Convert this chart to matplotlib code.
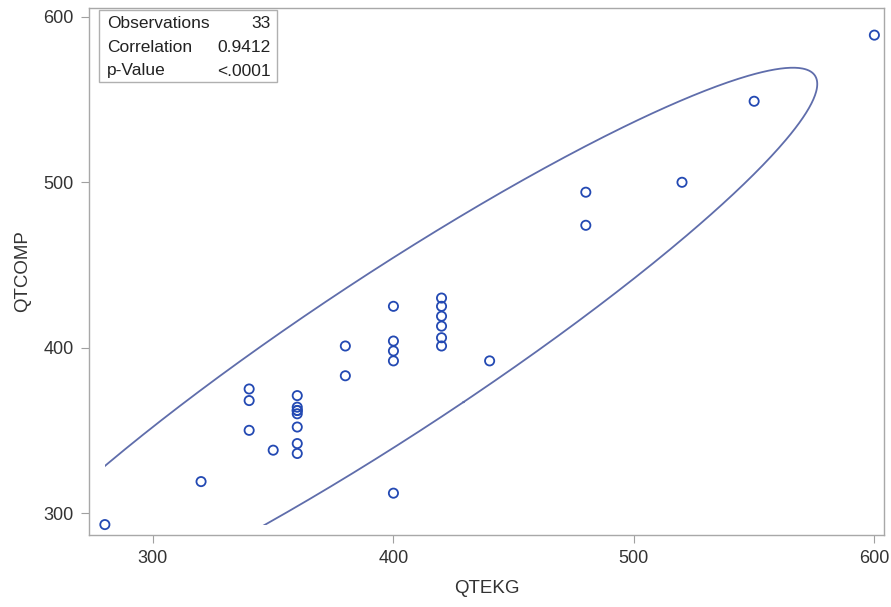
import numpy as np
import matplotlib
matplotlib.use("Agg")
import matplotlib.pyplot as plt
from matplotlib.patches import Rectangle

plt.rcParams['font.family'] = ['Liberation Sans', 'DejaVu Sans']

qtekg = [280, 320, 340, 340, 340, 350,
         360, 360, 360, 360, 360, 360, 360, 360,
         380, 380,
         400, 400, 400, 400, 400,
         420, 420, 420, 420, 420, 420,
         440, 480, 480, 520, 550, 600]
qtcomp = [293, 319, 375, 368, 350, 338,
          371, 364, 362, 362, 360, 352, 342, 336,
          401, 383,
          425, 404, 398, 392, 312,
          430, 425, 419, 413, 406, 401,
          392, 494, 474, 500, 549, 589]

stat_labels = ["Observations", "Correlation", "p-Value"]
stat_values = ["33", "0.9412", "<.0001"]

x = np.array(qtekg, float)
y = np.array(qtcomp, float)
n = len(x)

fig = plt.figure(figsize=(8.91, 6.07), dpi=100)
ax = fig.add_axes([89/891, 72/607, 795/891, 527/607])

# 95% prediction ellipse, clipped to the data range
F95 = 3.3048  # F(0.95; 2, n-2) for n=33
c2 = 2 * (n + 1) * (n - 1) / (n * (n - 2)) * F95
cov = np.cov(x, y)
vals, vecs = np.linalg.eigh(cov)
t = np.linspace(0, 2 * np.pi, 600)
circ = np.vstack([np.cos(t), np.sin(t)])
pts = vecs @ (np.sqrt(vals * c2)[:, None] * circ)
line, = ax.plot(x.mean() + pts[0], y.mean() + pts[1], color='#5F6DAB', lw=1.3, zorder=2)
clip = Rectangle((x.min(), y.min()), x.max() - x.min(), y.max() - y.min(),
                 transform=ax.transData, facecolor='none', edgecolor='none')
line.set_clip_path(clip)

ax.scatter(x, y, s=44, facecolors='none', edgecolors='#2349B3', linewidths=1.3, zorder=3)

ax.set_xlim(273.4, 604)
ax.set_ylim(286.7, 605.4)
ax.set_xticks([300, 400, 500, 600])
ax.set_yticks([300, 400, 500, 600])
ax.set_xlabel("QTEKG", fontsize=13.5, color='#333333', labelpad=9)
ax.set_ylabel("QTCOMP", fontsize=13.5, color='#333333', labelpad=9)
ax.tick_params(colors='#333333', labelsize=13, length=6, color='#A0A0A0', pad=5)
for s in ax.spines.values():
    s.set_color('#A8A8A8')
    s.set_linewidth(1)

# stats inset box
bx0, by0 = 99, 10
bx1, by1 = 277, 82
ax.add_patch(Rectangle((bx0/891, 1 - by1/607), (bx1-bx0)/891, (by1-by0)/607,
                       transform=fig.transFigure, fill=True, facecolor='white',
                       edgecolor='#B0B0B0', lw=1, zorder=5))
for i, (lab, val) in enumerate(zip(stat_labels, stat_values)):
    yy = 1 - (23 + 24 * i) / 607
    fig.text(107/891, yy, lab, fontsize=12.5, color='#222222', va='center', ha='left', zorder=6)
    fig.text(271/891, yy, val, fontsize=12.5, color='#222222', va='center', ha='right', zorder=6)

fig.savefig("out.png", dpi=100)
